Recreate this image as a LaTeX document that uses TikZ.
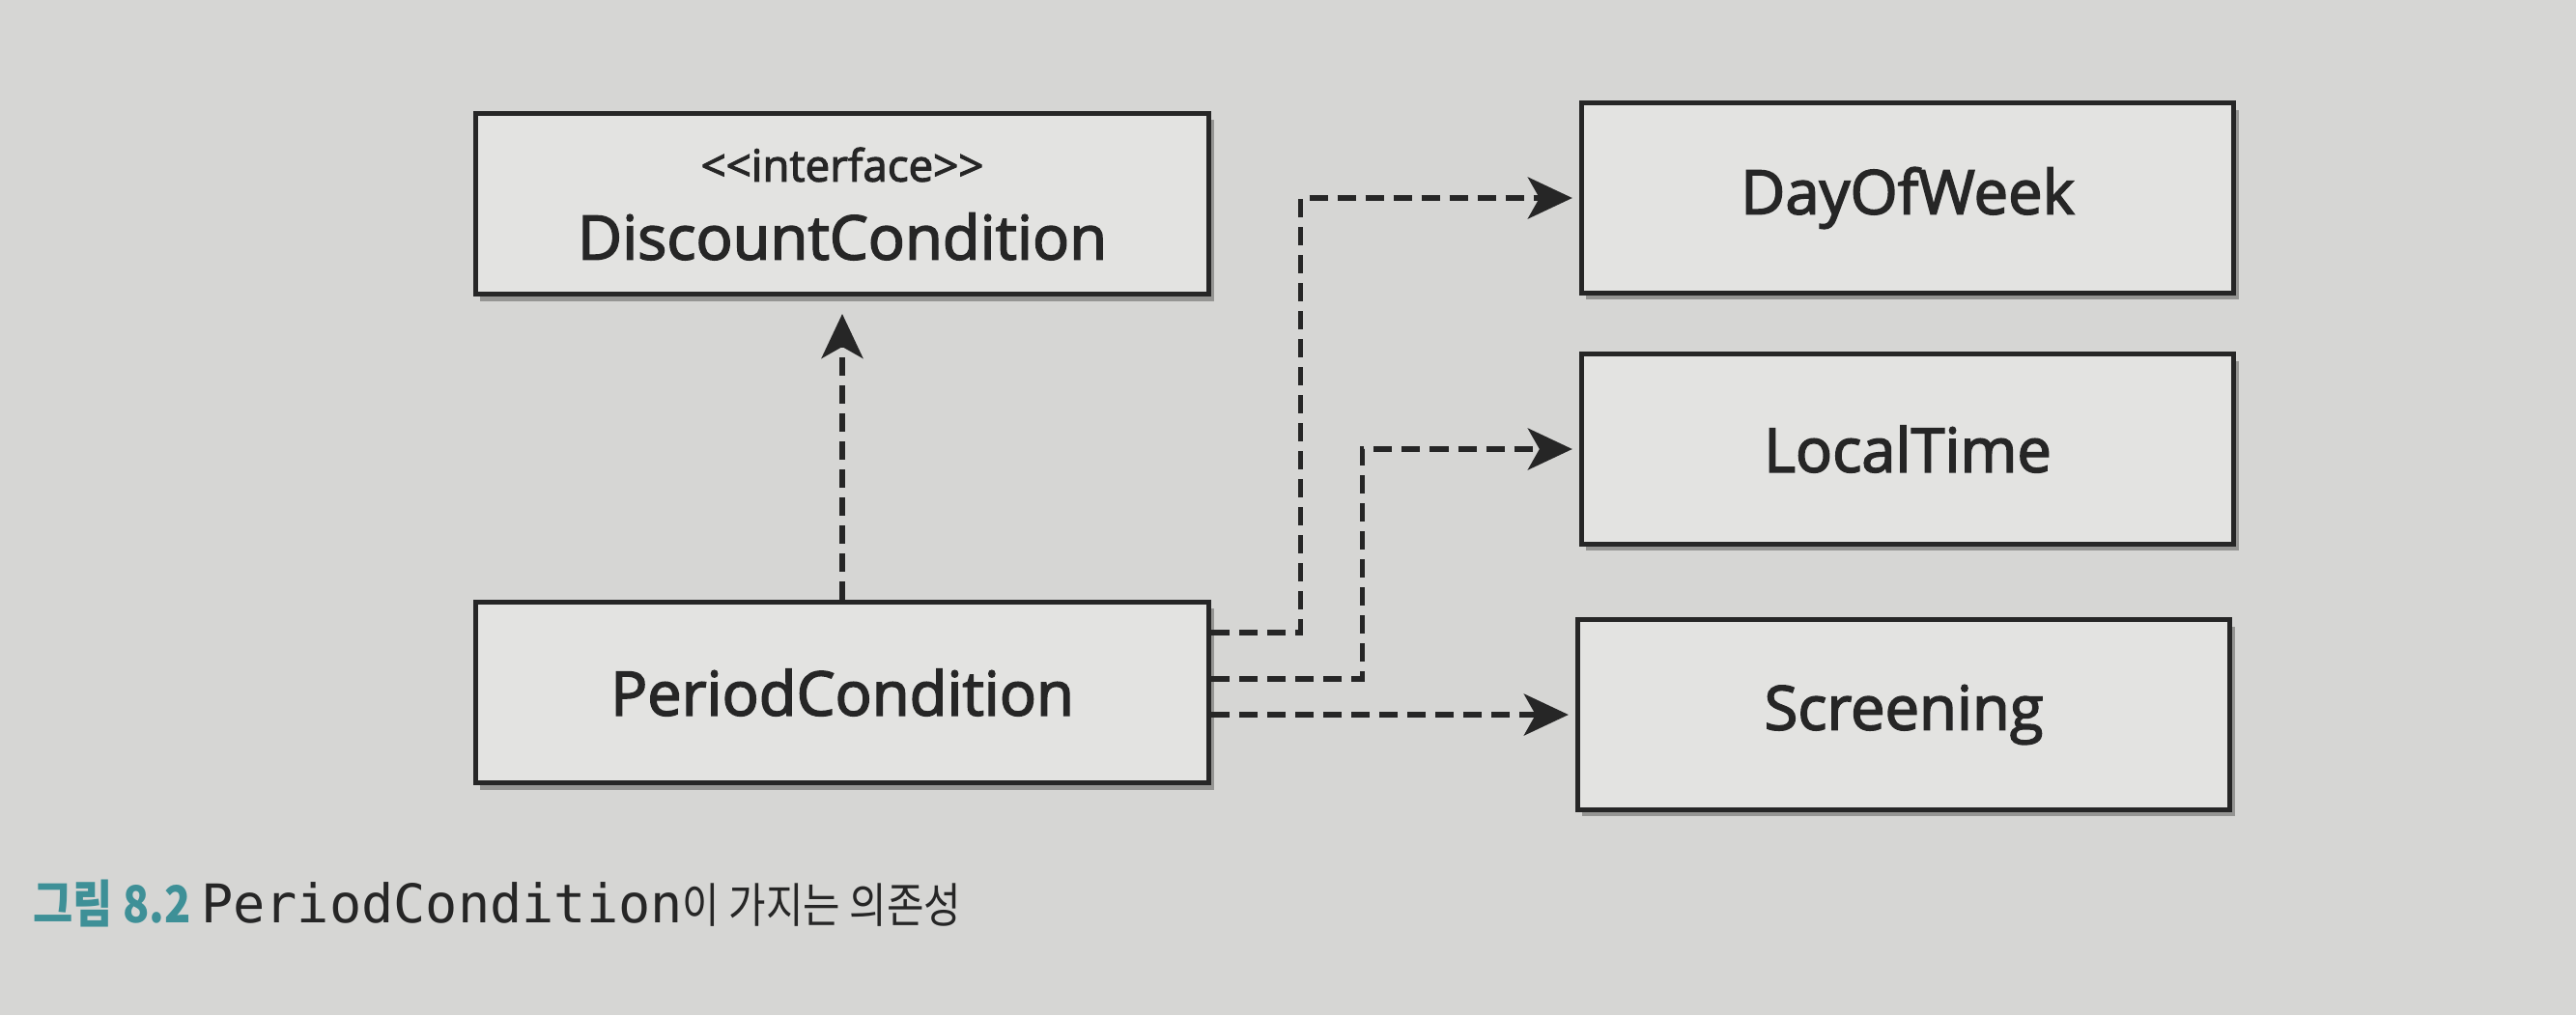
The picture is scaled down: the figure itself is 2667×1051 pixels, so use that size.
\documentclass[tikz,border=0pt]{standalone}
\usepackage{fontspec}
\setmainfont{Open Sans}
\newfontfamily\boxfont{Open Sans}[FakeBold=2.5]
\newfontfamily\cjk{Noto Sans CJK KR}[FakeStretch=0.85]
\newfontfamily\capmono{DejaVu Sans Mono}
\usetikzlibrary{arrows.meta,shadows}
\definecolor{bg}{HTML}{D6D6D4}
\definecolor{boxfill}{HTML}{E3E3E1}
\definecolor{ink}{HTML}{262626}
\definecolor{capteal}{HTML}{3E9097}
\begin{document}
\begin{tikzpicture}[x=0.01cm,y=-0.01cm,
  cls/.style={draw=ink, line width=1.4pt, fill=boxfill, text=ink,
    font=\boxfont\fontsize{18}{23}\selectfont, inner sep=0pt,
    drop shadow={shadow xshift=0.05cm, shadow yshift=-0.07cm, fill=black, opacity=0.3}},
  leftbox/.style={cls, minimum width=7.59cm, minimum height=1.87cm},
  rightbox/.style={cls, minimum width=6.75cm, minimum height=1.96cm},
  dep/.style={draw=ink, line width=1.5pt, dash pattern=on 0.19cm off 0.1cm,
    -{Stealth[length=0.46cm, width=0.43cm, inset=0.12cm]}},
]
\fill[bg] (0,0) rectangle (2667,1051);
\useasboundingbox (0,0) rectangle (2667,1051);

\node[leftbox, align=center] (dc) at (872,211)
  {{\fontsize{13}{23}\selectfont <{}<interface>{}>}\\DiscountCondition};
\node[leftbox] (pc) at (872,717) {PeriodCondition};
\node[rightbox] (dow) at (1975,205) {DayOfWeek};
\node[rightbox] (lt) at (1975,465) {LocalTime};
\node[rightbox] (scr) at (1971,740) {Screening};

\draw[dep, shorten >=0.18cm] (pc.north) -- (dc.south);
\draw[dep, shorten >=0.07cm] ([yshift=0.62cm]pc.east) -- ++(92,0) |- (dow.west);
\draw[dep, shorten >=0.07cm] ([yshift=0.14cm]pc.east) -- ++(156,0) |- (lt.west);
\coordinate (s3) at ([yshift=-0.23cm]pc.east);
\draw[dep, shorten >=0.07cm] (s3) -- (s3 -| scr.west);

\node[anchor=base west, inner sep=0pt, text=capteal,
  font=\cjk\bfseries\fontsize{15}{18}\selectfont] (fig) at (34,955) {그림 8.2};
\node[anchor=base west, inner sep=0pt, text=ink,
  font=\capmono\fontsize{15.7}{18}\selectfont] (cap) at ([xshift=0.09cm]fig.base east)
  {PeriodCondition{\cjk\fontsize{14}{18}\selectfont 이 가지는 의존성}};
\end{tikzpicture}
\end{document}
